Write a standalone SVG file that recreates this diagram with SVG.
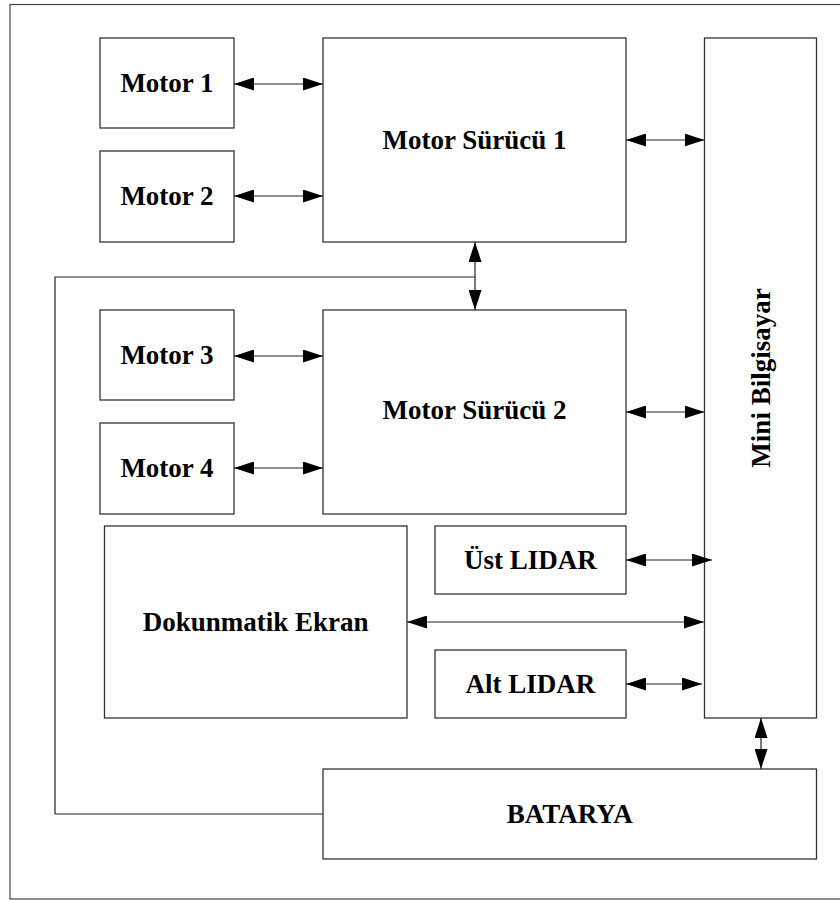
<svg xmlns="http://www.w3.org/2000/svg" width="840" height="900" viewBox="0 0 840 900">
<defs>
<marker id="ah" markerUnits="userSpaceOnUse" markerWidth="20" markerHeight="13" refX="20" refY="6.5" orient="auto-start-reverse">
<path d="M0,0 L20,6.5 L0,13 z" fill="#000"/>
</marker>
<style>
.box{fill:#fff;stroke:#333;stroke-width:1.3}
.lbl{font-family:"Liberation Serif","Times New Roman",serif;font-weight:bold;font-size:27px;fill:#000;text-anchor:middle}
.c{fill:none;stroke:#222;stroke-width:1.2}
.ar{marker-start:url(#ah);marker-end:url(#ah)}
</style>
</defs>
<rect x="0" y="0" width="840" height="900" fill="#fff"/>
<rect x="10" y="4.5" width="850" height="894.5" fill="none" stroke="#444" stroke-width="1.2"/>

<g id="motor1"><rect class="box" x="100" y="38" width="134" height="90"/><text class="lbl" x="167" y="92">Motor 1</text></g>
<g id="motor2"><rect class="box" x="100" y="151" width="134" height="91"/><text class="lbl" x="167" y="205">Motor 2</text></g>
<g id="surucu1"><rect class="box" x="323" y="38" width="303" height="204"/><text class="lbl" x="474.5" y="149">Motor Sürücü 1</text></g>
<g id="motor3"><rect class="box" x="100" y="310" width="134" height="90"/><text class="lbl" x="167" y="364">Motor 3</text></g>
<g id="motor4"><rect class="box" x="100" y="423" width="134" height="91"/><text class="lbl" x="167" y="477">Motor 4</text></g>
<g id="surucu2"><rect class="box" x="323" y="310" width="303" height="204"/><text class="lbl" x="474.5" y="419">Motor Sürücü 2</text></g>
<g id="mini"><rect class="box" x="704.5" y="38" width="112" height="680" stroke="#000"/><text class="lbl" x="0" y="0" transform="translate(770,378) rotate(-90)">Mini Bilgisayar</text></g>
<g id="dokunmatik"><rect class="box" x="104.5" y="526" width="302.5" height="192"/><text class="lbl" x="255.7" y="631">Dokunmatik Ekran</text></g>
<g id="ustlidar"><rect class="box" x="435" y="526" width="191" height="68"/><text class="lbl" x="530.5" y="569">Üst LIDAR</text></g>
<g id="altlidar"><rect class="box" x="435" y="650" width="191" height="68"/><text class="lbl" x="530.5" y="693">Alt LIDAR</text></g>
<g id="batarya"><rect class="box" x="323" y="769" width="493.5" height="90"/><text class="lbl" x="569.7" y="823">BATARYA</text></g>

<g id="connectors">
<line class="c ar" x1="234" y1="84" x2="323" y2="84"/>
<line class="c ar" x1="234" y1="196" x2="323" y2="196"/>
<line class="c ar" x1="626" y1="140" x2="704.5" y2="140"/>
<line class="c ar" x1="475" y1="242" x2="475" y2="310"/>
<polyline class="c" points="475,277 55,277 55,814 323,814"/>
<line class="c ar" x1="234" y1="356" x2="323" y2="356"/>
<line class="c ar" x1="234" y1="468" x2="323" y2="468"/>
<line class="c ar" x1="626" y1="412" x2="704.5" y2="412"/>
<line class="c ar" x1="626" y1="560" x2="712" y2="560"/>
<line class="c ar" x1="407" y1="622" x2="704" y2="622"/>
<line class="c ar" x1="626" y1="684" x2="702" y2="684"/>
<line class="c ar" x1="761" y1="718" x2="761" y2="769"/>
</g>
</svg>
